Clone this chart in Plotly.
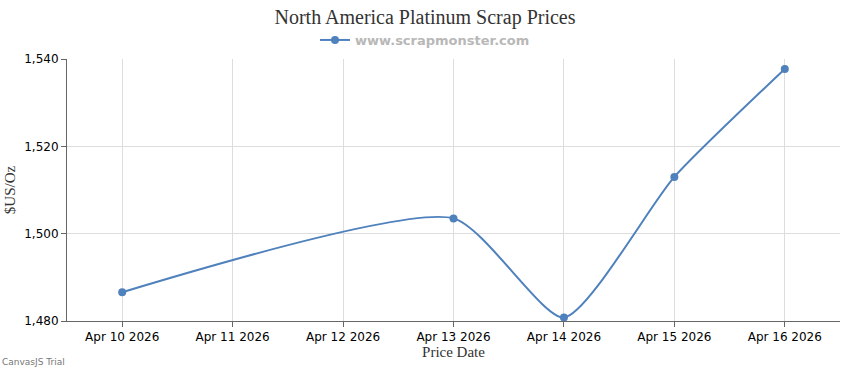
import plotly.graph_objects as go

dates = ["2026-04-10", "2026-04-13", "2026-04-14", "2026-04-15", "2026-04-16"]
prices = [1486.6, 1503.5, 1480.8, 1513.0, 1537.7]
y_ticks = [1480, 1500, 1520, 1540]

fig = go.Figure()
fig.add_trace(go.Scatter(
    x=dates, y=prices, mode="lines+markers",
    name="www.scrapmonster.com",
    line=dict(color="#4F81BC", width=2, shape="spline", smoothing=0.6),
    marker=dict(color="#4F81BC", size=8, symbol="circle"),
    cliponaxis=False,
))

W, H = 850, 370
L, R, T, B = 67, 10, 59, 49
PW, PH = W - L - R, H - T - B
CX = 425  # horizontal centre of the chart, pixels

fig.update_layout(
    width=W, height=H,
    paper_bgcolor="white", plot_bgcolor="white",
    margin=dict(l=L, r=R, t=T, b=B, autoexpand=False),
    title=dict(text="North America Platinum Scrap Prices", x=CX / W, xanchor="center",
               y=1 - 17 / H, yanchor="middle",
               font=dict(family="Liberation Serif", size=20, color="#333333")),
    showlegend=True,
    legend=dict(orientation="h", x=(CX - L) / PW, xanchor="center", y=1 + 19 / PH, yanchor="middle",
                font=dict(family="DejaVu Sans", size=13, color="#b8b8b8", weight="bold"),
                itemwidth=30),
    xaxis=dict(
        type="date", range=["2026-04-09 12:00", "2026-04-16 12:00"],
        tickformat="%b %d %Y", dtick=86400000, tick0="2026-04-10",
        showgrid=True, gridcolor="#dddddd", gridwidth=1,
        showline=True, linecolor="#666666", linewidth=1,
        ticks="outside", ticklen=5, tickcolor="#666666",
        tickfont=dict(family="DejaVu Sans", size=12, color="#000000"),
        title=dict(text="Price Date", standoff=3,
                   font=dict(family="Liberation Serif", size=15, color="#333333")),
        zeroline=False, automargin=False,
    ),
    yaxis=dict(
        range=[1480, 1540], tickvals=y_ticks, tickformat=",",
        showgrid=True, gridcolor="#dddddd", gridwidth=1,
        showline=True, linecolor="#666666", linewidth=1,
        ticks="outside", ticklen=5, tickcolor="#666666",
        tickfont=dict(family="DejaVu Sans", size=12, color="#000000"),
        title=dict(text="$US/Oz", standoff=4,
                   font=dict(family="Liberation Serif", size=15, color="#333333")),
        zeroline=False, automargin=False,
    ),
)

fig.add_annotation(text="CanvasJS Trial", xref="paper", yref="paper",
                   x=-L / PW, y=-B / PH, xanchor="left", yanchor="bottom",
                   showarrow=False, yshift=1,
                   font=dict(family="DejaVu Sans", size=9, color="#777777"))

fig.write_html("out.html", config={"displayModeBar": False},
               post_script="document.body.style.margin='0';")
